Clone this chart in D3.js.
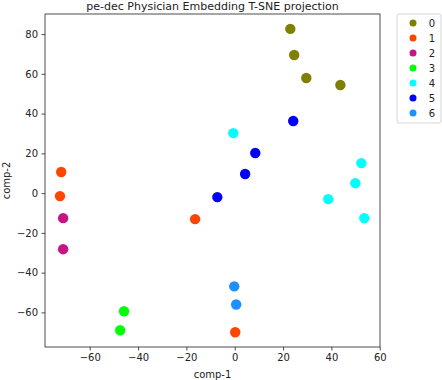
<!DOCTYPE html>
<html>
<head>
<meta charset="utf-8">
<script src="https://cdn.jsdelivr.net/npm/d3@7"></script>
<style>
  body { margin: 0; background: #fff; }
  text { font-family: "DejaVu Sans", sans-serif; fill: #222; }
</style>
</head>
<body>
<div id="chart"></div>
<script>
// data
let classes = ["0", "1", "2", "3", "4", "5", "6"]
let classColors = ["#808000", "#ff4500", "#c71585", "#00ff00", "#00ffff", "#0000ff", "#1e90ff"]
let comp1 = [23.0, 24.6, 29.6, 43.7,
             -71.8, -72.3, -16.4, 0.2,
             -71.0, -71.0,
             -45.8, -47.4,
             -0.6, 52.4, 49.9, 38.7, 53.6,
             24.2, 8.5, 4.3, -7.2,
             -0.2, 0.6]
let comp2 = [82.6, 69.5, 57.9, 54.4,
             10.6, -1.5, -13.1, -70.0,
             -12.6, -28.2,
             -59.4, -69.0,
             30.2, 15.1, 5.0, -3.0, -12.6,
             36.3, 20.2, 9.6, -2.0,
             -46.9, -56.0]
let label = [0, 0, 0, 0,
             1, 1, 1, 1,
             2, 2,
             3, 3,
             4, 4, 4, 4, 4,
             5, 5, 5, 5,
             6, 6]
let xTicks = [-60, -40, -20, 0, 20, 40, 60]
let yTicks = [-60, -40, -20, 0, 20, 40, 60, 80]

let width = 442,
    height = 380,
    margin = { top: 14, right: 62, bottom: 33, left: 45 }

let svg = d3.select("#chart").append("svg")
  .attr("width", width)
  .attr("height", height)

let x = d3.scaleLinear()
  .domain([-78.5, 60.1])
  .range([margin.left, width - margin.right])

let y = d3.scaleLinear()
  .domain([-77.4, 90.1])
  .range([height - margin.bottom, margin.top])

let color = d3.scaleOrdinal()
  .domain(classes)
  .range(classColors)

// axes
let xAxis = svg.append("g")
  .attr("transform", "translate(0," + (height - margin.bottom) + ")")
  .call(d3.axisBottom(x).tickValues(xTicks).tickSize(3.5).tickPadding(3.5)
    .tickFormat(d => d < 0 ? "\u2212" + Math.abs(d) : d))

let yAxis = svg.append("g")
  .attr("transform", "translate(" + margin.left + ",0)")
  .call(d3.axisLeft(y).tickValues(yTicks).tickSize(3.5).tickPadding(3.5)
    .tickFormat(d => d < 0 ? "\u2212" + Math.abs(d) : d))

svg.selectAll(".tick text").style("font-size", "10px").style("font-family", "DejaVu Sans")
svg.selectAll(".domain").remove()
svg.selectAll(".tick line").attr("stroke", "#222").attr("stroke-width", 0.8)

// frame
svg.append("rect")
  .attr("x", margin.left)
  .attr("y", margin.top)
  .attr("width", width - margin.left - margin.right)
  .attr("height", height - margin.top - margin.bottom)
  .attr("fill", "none")
  .attr("stroke", "#222")
  .attr("stroke-width", 0.8)

// points
let points = comp1.map((d, i) => ({ c1: d, c2: comp2[i], k: label[i] }))
svg.append("g").selectAll("circle")
  .data(points)
  .enter().append("circle")
  .attr("cx", d => x(d.c1))
  .attr("cy", d => y(d.c2))
  .attr("r", 5.2)
  .attr("fill", d => color(classes[d.k]))

// labels
svg.append("text")
  .attr("x", (margin.left + width - margin.right) / 2)
  .attr("y", 10)
  .attr("text-anchor", "middle")
  .style("font-size", "11px")
  .text("pe-dec Physician Embedding T-SNE projection")

svg.append("text")
  .attr("x", (margin.left + width - margin.right) / 2)
  .attr("y", 378)
  .attr("text-anchor", "middle")
  .style("font-size", "10px")
  .text("comp-1")

svg.append("text")
  .attr("transform", "translate(10," + ((margin.top + height - margin.bottom) / 2) + ") rotate(-90)")
  .attr("text-anchor", "middle")
  .style("font-size", "10px")
  .text("comp-2")

// legend
let legend = svg.append("g").attr("transform", "translate(397,14)")
legend.append("rect")
  .attr("width", 44)
  .attr("height", 109)
  .attr("rx", 2)
  .attr("fill", "#fff")
  .attr("stroke", "#ccc")
  .attr("stroke-width", 0.8)

let item = legend.selectAll(".item")
  .data(classes)
  .enter().append("g")
  .attr("class", "item")
  .attr("transform", (d, i) => "translate(0," + (9 + i * 15) + ")")

item.append("circle")
  .attr("cx", 16)
  .attr("r", 3.5)
  .attr("fill", d => color(d))

item.append("text")
  .attr("x", 35)
  .attr("dy", "0.35em")
  .attr("text-anchor", "middle")
  .style("font-size", "10px")
  .text(d => d)
</script>
</body>
</html>
